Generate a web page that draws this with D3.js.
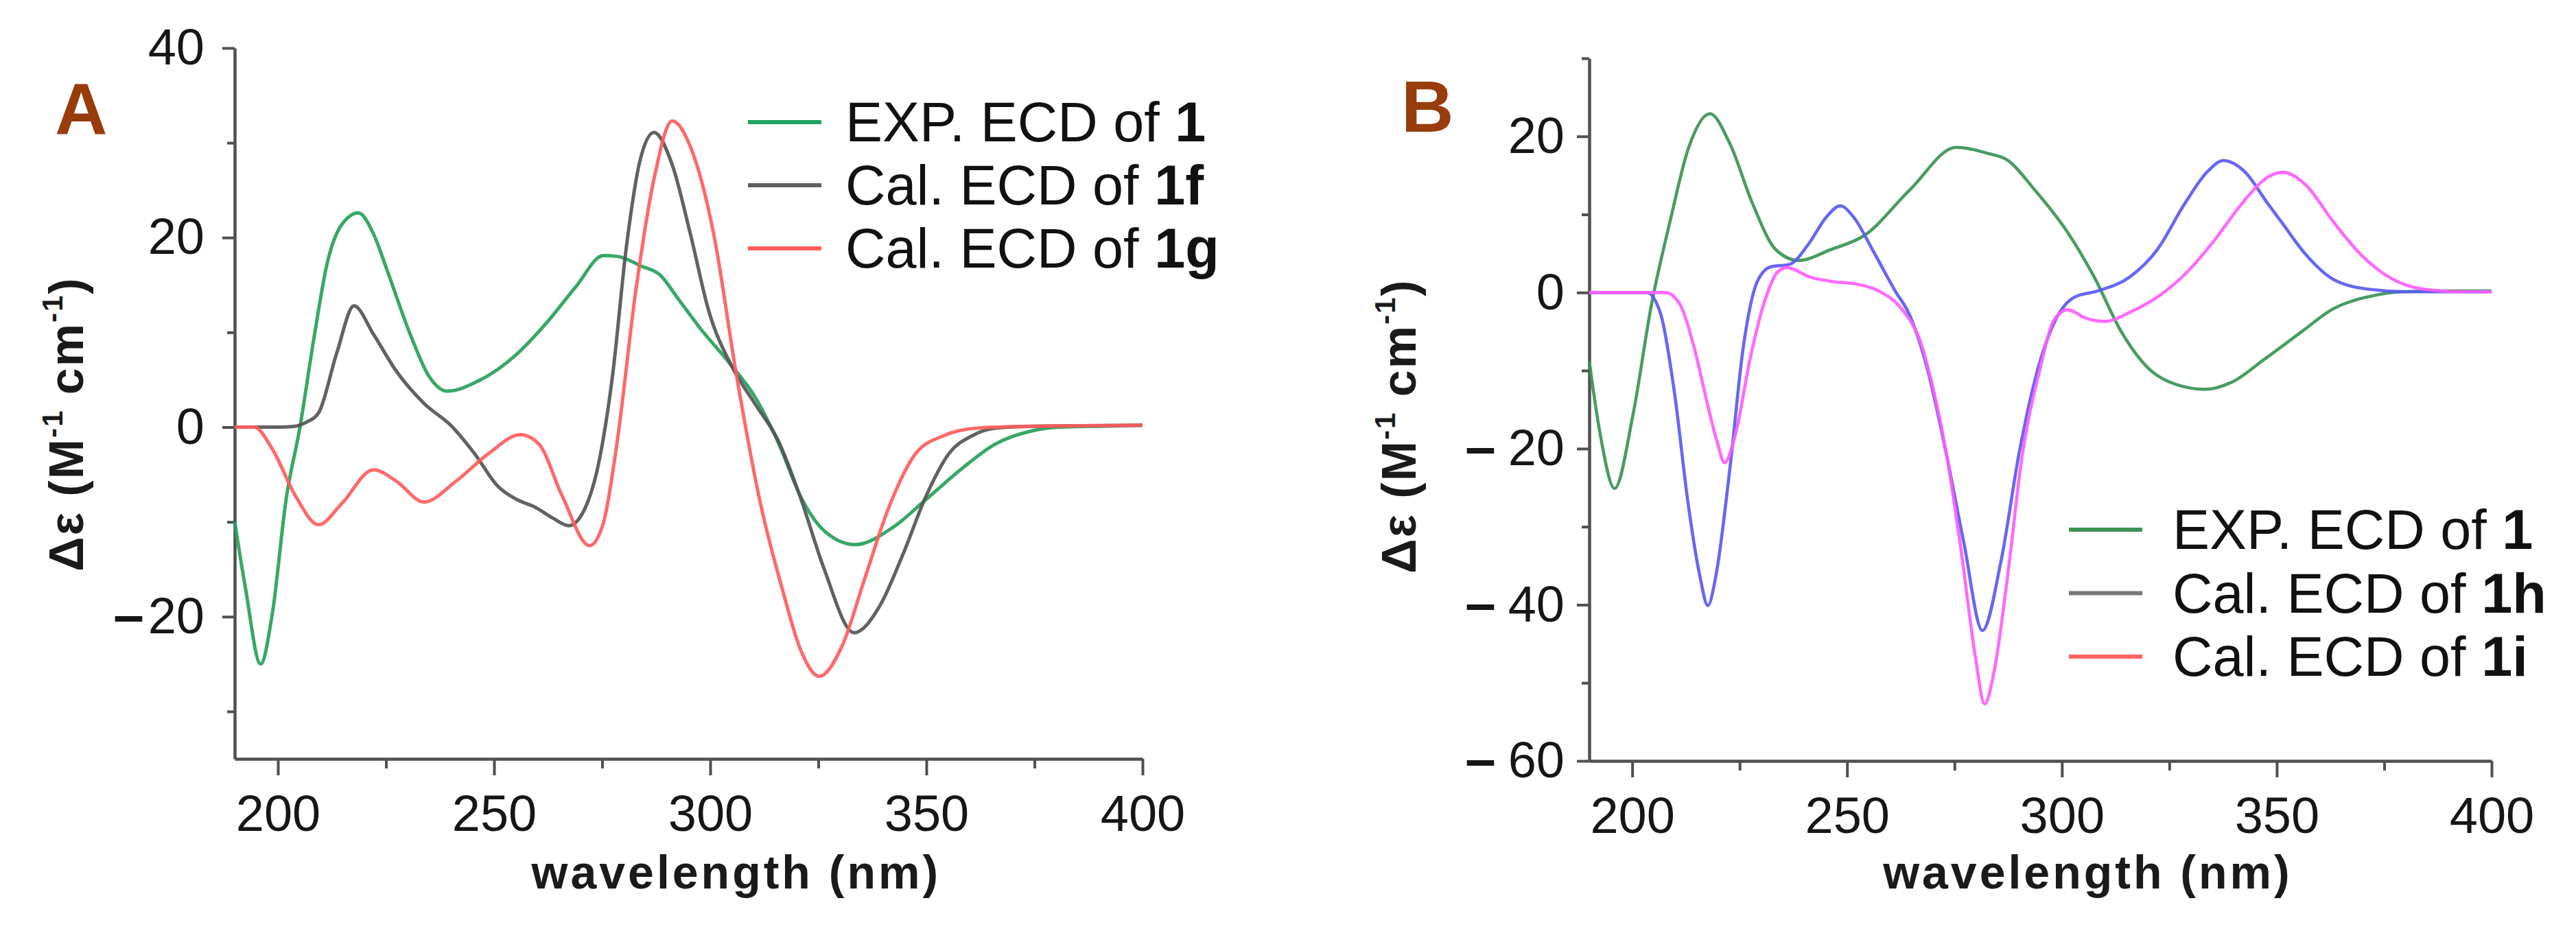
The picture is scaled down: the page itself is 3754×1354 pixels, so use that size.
<!DOCTYPE html>
<html>
<head>
<meta charset="utf-8">
<script src="https://cdn.jsdelivr.net/npm/d3@7"></script>
<style>
  html, body { margin: 0; padding: 0; background: #ffffff; }
  svg { display: block; }
</style>
</head>
<body>
<svg id="chart" width="3754" height="1354"></svg>
<script>
// ---------------- DATA ----------------
// Panel A
const wlA_exp = [190, 192.5, 196, 198.7, 201.9, 205.1, 208.3, 211.5, 214.8, 218.6, 222.1, 225.3, 230.6, 234.9, 239.1, 246.5, 255, 262.5, 268.9, 275.3, 278.7, 284, 288.3, 292.5, 297.9, 304.2, 310.6, 315.9, 321.2, 326.5, 333.5, 342.5, 350, 358.4, 365.9, 374.4, 380.8, 390, 400];
const deA_exp = [-10, -17, -25, -19.7, -7.6, 0, 9.3, 17.5, 21.4, 22.6, 20.4, 16.5, 9.8, 5.4, 3.8, 4.9, 7.6, 11.2, 14.8, 18.1, 18.0, 17.0, 16.1, 13.6, 10.3, 6.9, 3.0, -1.8, -7.6, -11.0, -12.4, -10.5, -7.6, -4.3, -1.8, -0.4, 0, 0.1, 0.2];

const wlA_1f = [190, 200, 204, 206.5, 209.4, 213.6, 217.6, 222.1, 227.4, 233.8, 240.2, 245.5, 250.8, 255.1, 259.3, 263.6, 267.3, 271, 274.2, 277.4, 280.6, 283.8, 287, 291.2, 295.4, 299.7, 305, 310.3, 315.7, 321, 326.3, 333.3, 339.3, 344.6, 350, 355.2, 360.6, 365.9, 375, 400];
const deA_1f = [0, 0, 0.1, 0.5, 1.5, 7.8, 12.8, 9.8, 5.9, 2.5, 0.1, -2.8, -6.2, -7.6, -8.4, -9.6, -10.4, -8.6, -3.8, 5.4, 19, 28.2, 31.1, 27.7, 20.4, 12.2, 6.4, 2.5, -1.4, -7.6, -14.9, -21.7, -18.8, -13.4, -7.2, -2.8, -0.9, -0.1, 0.1, 0.2];

const wlA_1g = [190, 194.5, 198.7, 204, 209.4, 214.7, 222.1, 227.4, 233.8, 241.2, 248.7, 256.1, 260.4, 265.7, 272.1, 275.3, 278.4, 282.7, 287, 291.2, 295.4, 300.8, 306.1, 311.4, 316.8, 321, 325.2, 330.5, 335.8, 341.2, 347.5, 354, 361.6, 375, 400];
const deA_1g = [0, 0, -2.3, -7.2, -10.3, -8.1, -4.5, -5.7, -7.9, -5.7, -2.8, -0.8, -1.8, -7.2, -12.5, -10.1, -1.8, 14.1, 26.2, 32.3, 29.6, 20.4, 5.4, -7.6, -17.3, -23.6, -26.3, -23.1, -15.9, -8.6, -2.8, -0.9, -0.1, 0.1, 0.2];

// Panel B
const wlB_exp = [190, 192.5, 195.9, 200.2, 204.5, 208.8, 213.1, 218.1, 222.7, 228, 233.4, 238.7, 246.2, 254, 264.7, 275.4, 282.9, 287.2, 293.6, 301.1, 307.5, 313.9, 320.3, 326.7, 333.4, 339.5, 347, 355.6, 363.1, 371.7, 379.2, 390, 400];
const deB_exp = [-8.8, -18, -25.1, -15.6, -1.5, 9.1, 18.5, 22.9, 19.1, 11.4, 5.5, 4.1, 5.5, 7.3, 13.2, 18.6, 17.8, 17.0, 13.2, 7.9, 2.0, -5.1, -9.8, -11.8, -12.4, -11.5, -8.6, -5.1, -2.1, -0.5, 0.1, 0.2, 0.2];

const wlB_1h = [190, 203.4, 206.6, 209.8, 213.1, 215.7, 217.6, 219.5, 222.7, 225.9, 229.1, 232.3, 236.6, 240.9, 245.1, 248.4, 251.6, 255.9, 261.2, 264.4, 268.7, 273, 277.2, 281.5, 285.8, 290.1, 294.4, 298.7, 302.9, 308.3, 315.8, 322.2, 328.6, 333.9, 337.6, 342.5, 347.9, 351.4, 356.7, 363.1, 371.7, 380.2, 400];
const deB_1h = [0, 0, -2.7, -12.7, -27.4, -36.2, -40.1, -36.2, -22.7, -6.8, 1.4, 3.3, 3.6, 6.1, 9.6, 11.1, 9.6, 5.5, 0.2, -2.7, -9.8, -20.4, -32.1, -43.3, -34.5, -20.4, -9.8, -3.3, -0.6, 0.2, 2.0, 5.5, 11.4, 15.5, 16.9, 15.5, 11.4, 8.8, 4.9, 1.7, 0.4, 0.1, 0.1];

const wlB_1i = [190, 207.7, 211.1, 214.3, 217.6, 219.8, 221.5, 224.1, 227.4, 230.6, 233.8, 236, 241.3, 246.7, 252, 257.4, 262.7, 267, 270.2, 273.4, 276.6, 279.9, 282, 284.2, 287.4, 290.6, 294.9, 298.1, 301.3, 305.6, 309.9, 316.3, 322.7, 329.1, 335.5, 341.9, 348.3, 351.5, 356.7, 363.1, 369.5, 377, 384.5, 393.1, 400];
const deB_1i = [0, 0, -1.5, -6.8, -14.5, -19.2, -21.8, -18, -8.6, -1.5, 2.6, 3.2, 2.0, 1.4, 1.1, 0.2, -2.1, -6.2, -12.7, -21.5, -33.3, -46.8, -52.7, -48.6, -36.2, -21.5, -9.8, -3.6, -2.2, -3.3, -3.7, -2.4, -0.4, 2.6, 6.7, 11.4, 14.9, 15.4, 13.8, 9.1, 4.9, 1.7, 0.4, 0.1, 0.1];

// Ticks
const xMajorTicks = [200, 250, 300, 350, 400];
const xMinorTicks = [225, 275, 325, 375];
const yMajorTicksA = [40, 20, 0, -20];
const yMinorTicksA = [30, 10, -10, -30];
const yMajorTicksB = [20, 0, -20, -40, -60];
const yMinorTicksB = [30, 10, -10, -30, -50];

// Legends
const legendTextA = ["EXP. ECD of ", "Cal. ECD of ", "Cal. ECD of "];
const legendBoldA = ["1", "1f", "1g"];
const legendTextB = ["EXP. ECD of ", "Cal. ECD of ", "Cal. ECD of "];
const legendBoldB = ["1", "1h", "1i"];

// Texts
const panelLabels = ["A", "B"];
const xAxisTitle = "wavelength (nm)";

// ---------------- DRAWING ----------------
const FONT = '"Liberation Sans", Arial, Helvetica, sans-serif';
const svg = d3.select("#chart");
svg.append("rect").attr("width", 3754).attr("height", 1354).attr("fill", "#ffffff");

const AXIS_COLOR = "#505050";

function yTickLabel(sel, gapDx) {
  sel.each(function(d) {
    const t = d3.select(this);
    t.text(null);
    if (d < 0) {
      t.append("tspan").attr("font-weight", "bold").attr("font-size", 80).text("\u2013");
      t.append("tspan").attr("dx", gapDx).text(String(Math.abs(d)));
    } else {
      t.append("tspan").text(String(d));
    }
  });
}

function drawPanel(p) {
  const g = svg.append("g");
  const x = d3.scaleLinear().domain([190, 400]).range([p.left, p.right]);
  const y = d3.scaleLinear().domain(p.yDomain).range([p.bottom, p.top]);

  // x minor ticks
  g.append("g")
    .attr("transform", `translate(0,${p.bottom})`)
    .call(d3.axisBottom(x).tickValues(xMinorTicks).tickSize(14).tickFormat(""))
    .call(s => s.select(".domain").remove());
  // x major ticks + labels
  g.append("g")
    .attr("transform", `translate(0,${p.bottom})`)
    .call(d3.axisBottom(x).tickValues(xMajorTicks).tickSize(24).tickSizeOuter(0).tickPadding(28).tickFormat(d3.format("d")));
  // y minor ticks
  g.append("g")
    .attr("transform", `translate(${p.left},0)`)
    .call(d3.axisLeft(y).tickValues(p.yMinor).tickSize(11).tickFormat(""))
    .call(s => s.select(".domain").remove());
  // y major ticks + labels
  const gy = g.append("g")
    .attr("transform", `translate(${p.left},0)`)
    .call(d3.axisLeft(y).tickValues(p.yMajor).tickSize(18).tickSizeOuter(0).tickPadding(p.yPad));
  gy.selectAll(".tick text").call(yTickLabel, p.minusGap);

  g.selectAll(".domain").attr("stroke", AXIS_COLOR).attr("stroke-width", 4.5);
  g.selectAll(".tick line").attr("stroke", AXIS_COLOR).attr("stroke-width", 4);
  g.selectAll(".tick text")
    .attr("font-family", FONT).attr("font-size", 74).attr("fill", "#161616");

  // curves
  const line = d3.line().x(d => x(d[0])).y(d => y(d[1])).curve(d3.curveMonotoneX);
  p.series.forEach(s => {
    const pts = s.wl.map((w, i) => [w, s.de[i]]);
    g.append("path").datum(pts)
      .attr("d", line)
      .attr("fill", "none")
      .attr("stroke", s.color)
      .attr("stroke-width", s.width)
      .attr("stroke-opacity", 0.92)
      .attr("stroke-linejoin", "round");
  });

  // axis titles
  g.append("text")
    .attr("x", x(306)).attr("y", 1295)
    .attr("text-anchor", "middle")
    .attr("font-family", FONT).attr("font-weight", "bold").attr("font-size", 68)
    .attr("letter-spacing", 4)
    .attr("fill", "#1a1a1a")
    .text(xAxisTitle);

  const yt = g.append("text")
    .attr("transform", `translate(${p.yTitleX},${p.yTitleY}) rotate(-90)`)
    .attr("text-anchor", "middle")
    .attr("font-family", FONT).attr("font-weight", "bold").attr("font-size", 70)
    .attr("letter-spacing", 2)
    .attr("fill", "#1a1a1a");
  yt.append("tspan").text("\u0394\u03b5 (M");
  yt.append("tspan").attr("font-size", 42).attr("dy", -30).text("-1");
  yt.append("tspan").attr("dy", 30).text(" cm");
  yt.append("tspan").attr("font-size", 42).attr("dy", -30).text("-1");
  yt.append("tspan").attr("dy", 30).text(")");

  // panel label
  g.append("text")
    .attr("x", p.labelX).attr("y", p.labelY)
    .attr("font-family", FONT).attr("font-weight", "bold").attr("font-size", 106)
    .attr("fill", "#983c0c")
    .text(p.label);

  // legend
  p.legend.forEach((item, i) => {
    const ly = p.legendY0 + i * p.legendDy;
    g.append("line")
      .attr("x1", p.legendX1).attr("x2", p.legendX2)
      .attr("y1", ly).attr("y2", ly)
      .attr("stroke", item.color).attr("stroke-width", 6);
    const t = g.append("text")
      .attr("x", p.legendTextX).attr("y", ly + 28)
      .attr("font-family", FONT).attr("font-size", 81).attr("fill", "#111111");
    t.append("tspan").text(item.text);
    t.append("tspan").attr("font-weight", "bold").text(item.bold);
  });
}

drawPanel({
  left: 342, right: 1665, top: 70, bottom: 1106,
  yDomain: [-35, 40],
  yMajor: yMajorTicksA, yMinor: yMinorTicksA, yPad: 26, minusGap: 6,
  yTitleX: 121, yTitleY: 618,
  label: panelLabels[0], labelX: 80, labelY: 196,
  series: [
    { wl: wlA_exp, de: deA_exp, color: "#27a05a", width: 5 },
    { wl: wlA_1f, de: deA_1f, color: "#555555", width: 5 },
    { wl: wlA_1g, de: deA_1g, color: "#ff5c5c", width: 5 }
  ],
  legend: [
    { text: legendTextA[0], bold: legendBoldA[0], color: "#1fa463" },
    { text: legendTextA[1], bold: legendBoldA[1], color: "#606060" },
    { text: legendTextA[2], bold: legendBoldA[2], color: "#ff5c5c" }
  ],
  legendX1: 1090, legendX2: 1197, legendTextX: 1232, legendY0: 178, legendDy: 92
});

drawPanel({
  left: 2316, right: 3631, top: 85, bottom: 1109,
  yDomain: [-60, 30],
  yMajor: yMajorTicksB, yMinor: yMinorTicksB, yPad: 18, minusGap: 18,
  yTitleX: 2063, yTitleY: 621,
  label: panelLabels[1], labelX: 2042, labelY: 192,
  series: [
    { wl: wlB_exp, de: deB_exp, color: "#3a9455", width: 4.6 },
    { wl: wlB_1h, de: deB_1h, color: "#5a5af2", width: 4.6 },
    { wl: wlB_1i, de: deB_1i, color: "#ff5cff", width: 4.6 }
  ],
  legend: [
    { text: legendTextB[0], bold: legendBoldB[0], color: "#3a9455" },
    { text: legendTextB[1], bold: legendBoldB[1], color: "#777777" },
    { text: legendTextB[2], bold: legendBoldB[2], color: "#ff6464" }
  ],
  legendX1: 3015, legendX2: 3122, legendTextX: 3166, legendY0: 772, legendDy: 92.5
});
</script>
</body>
</html>
